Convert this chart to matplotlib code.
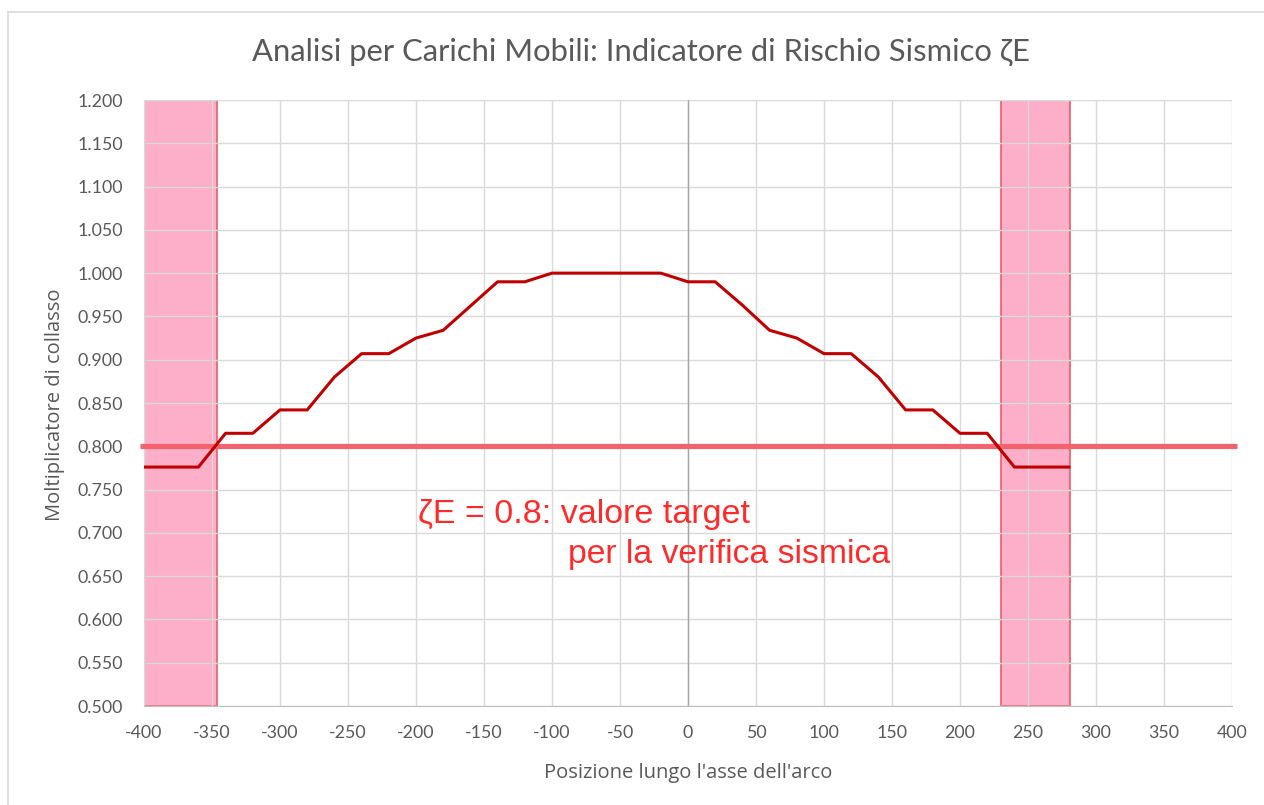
import matplotlib
matplotlib.use("Agg")
import matplotlib.pyplot as plt
from matplotlib.lines import Line2D

plt.rcParams["axes.unicode_minus"] = False

# ---- data ----
positions = [-400, -380, -360, -340, -320, -300, -280, -260, -240, -220, -200,
             -180, -160, -140, -120, -100, -80, -60, -40, -20, 0, 20, 40, 60,
             80, 100, 120, 140, 160, 180, 200, 220, 240, 260, 280]
multiplier = [0.776, 0.776, 0.776, 0.815, 0.815, 0.842, 0.842, 0.880, 0.907,
              0.907, 0.925, 0.934, 0.962, 0.990, 0.990, 1.000, 1.000, 1.000,
              1.000, 1.000, 0.990, 0.990, 0.963, 0.934, 0.925, 0.907, 0.907,
              0.880, 0.842, 0.842, 0.815, 0.815, 0.776, 0.776, 0.776]
target_x = [-403, 404]
target_y = [0.8, 0.8]
bands = [(-400, -346), (230, 281)]
x_ticks = list(range(-400, 401, 50))
y_ticks = [0.5 + 0.05 * i for i in range(15)]

title = "Analisi per Carichi Mobili: Indicatore di Rischio Sismico ζE"
xlabel = "Posizione lungo l'asse dell'arco"
ylabel = "Moltiplicatore di collasso"
note1 = "ζE = 0.8: valore target"
note2 = "per la verifica sismica"

gray_txt = "#595959"
fig = plt.figure(figsize=(12.64, 8.05), dpi=100)
ax = fig.add_axes([144/1264, 1-706/805, (1232-144)/1264, (706-100)/805])

for x0, x1 in bands:
    ax.axvspan(x0, x1, facecolor="#FDAEC8", edgecolor="#F05A6A", linewidth=1.2, zorder=0.5)

ax.set_xlim(-400, 400)
ax.set_ylim(0.5, 1.2)
ax.set_xticks(x_ticks)
ax.set_xticklabels([str(v) for v in x_ticks])
ax.set_yticks(y_ticks)
ax.set_yticklabels([f"{v:.3f}" for v in y_ticks])
ax.grid(True, color="#D9D9D9", linewidth=1.0, zorder=0.8)
ax.set_axisbelow(True)
ax.axvline(0, color="#A6A6A6", linewidth=1.0, zorder=0.9)
for s in ["top", "left", "right"]:
    ax.spines[s].set_visible(False)
ax.spines["bottom"].set_color("#BFBFBF")
ax.tick_params(axis="both", length=0, labelsize=12.8, colors=gray_txt)
ax.tick_params(axis="y", pad=15)
ax.tick_params(axis="x", pad=14)
for lab in ax.get_xticklabels() + ax.get_yticklabels():
    lab.set_family("Lato")

ax.plot(target_x, target_y, color="#F2636E", linewidth=3.7, zorder=3, clip_on=False,
        solid_capstyle="butt")
ax.plot(positions, multiplier, color="#C00000", linewidth=2.2, zorder=4)

fig.text(641/1264, 1-52/805, title, ha="center", va="center", fontsize=22.3,
         color=gray_txt, family="Lato")
fig.text(688/1264, 1-773/805, xlabel, ha="center", va="center", fontsize=14.5,
         color=gray_txt, family="Open Sans")
fig.text(55/1264, 1-405/805, ylabel, ha="center", va="center", fontsize=14.5,
         color=gray_txt, family="Open Sans", rotation=90)

fig.text(418/1264, 1-515/805, note1, ha="left", va="center", fontsize=24.5,
         color="#FF2A2A", family="Liberation Sans")
fig.text(568/1264, 1-555/805, note2, ha="left", va="center", fontsize=24.3,
         color="#FF2A2A", family="Liberation Sans")

# chart frame
fig.add_artist(Line2D([8/1264, 1], [1-12/805, 1-12/805], color="#D9D9D9", linewidth=1.2))
fig.add_artist(Line2D([8/1264, 8/1264], [0, 1-12/805], color="#D9D9D9", linewidth=1.2))

fig.savefig("out.png", dpi=100)
